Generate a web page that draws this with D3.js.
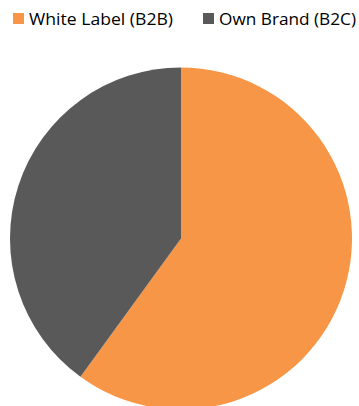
<!DOCTYPE html>
<html>
<head>
<meta charset="utf-8">
<script src="https://cdn.jsdelivr.net/npm/d3@7"></script>
<style>
  body { margin: 0; background: #fff; }
  svg { display: block; }
</style>
</head>
<body>
<svg id="chart"></svg>
<script>
const categories = ['White Label (B2B)', 'Own Brand (B2C)']
const values = [60, 40]
const colors = ['#F79646', '#595959']

const width = 359
const height = 406

const svg = d3.select('svg#chart')
  .attr('width', width)
  .attr('height', height)

const cx = 181
const cy = 238.5
const radius = 171

const pie = d3.pie().sort(null)
const arc = d3.arc().innerRadius(0).outerRadius(radius)

const g = svg.append('g')
  .attr('transform', 'translate(' + cx + ',' + cy + ')')

g.selectAll('path')
  .data(pie(values))
  .enter().append('path')
  .attr('d', arc)
  .attr('fill', (d, i) => colors[i])

// legend
const legendX = [13, 203]
const legend = svg.append('g')
  .selectAll('g')
  .data(categories)
  .enter().append('g')
  .attr('transform', (d, i) => 'translate(' + legendX[i] + ',0)')

legend.append('rect')
  .attr('x', 0)
  .attr('y', 13)
  .attr('width', 11)
  .attr('height', 11)
  .attr('fill', (d, i) => colors[i])

legend.append('text')
  .attr('x', 16)
  .attr('y', 25)
  .attr('font-family', 'Open Sans, sans-serif')
  .attr('font-size', 17)
  .attr('textLength', (d, i) => [144, 137][i])
  .attr('lengthAdjust', 'spacingAndGlyphs')
  .attr('fill', '#000')
  .text(d => d)
</script>
</body>
</html>
